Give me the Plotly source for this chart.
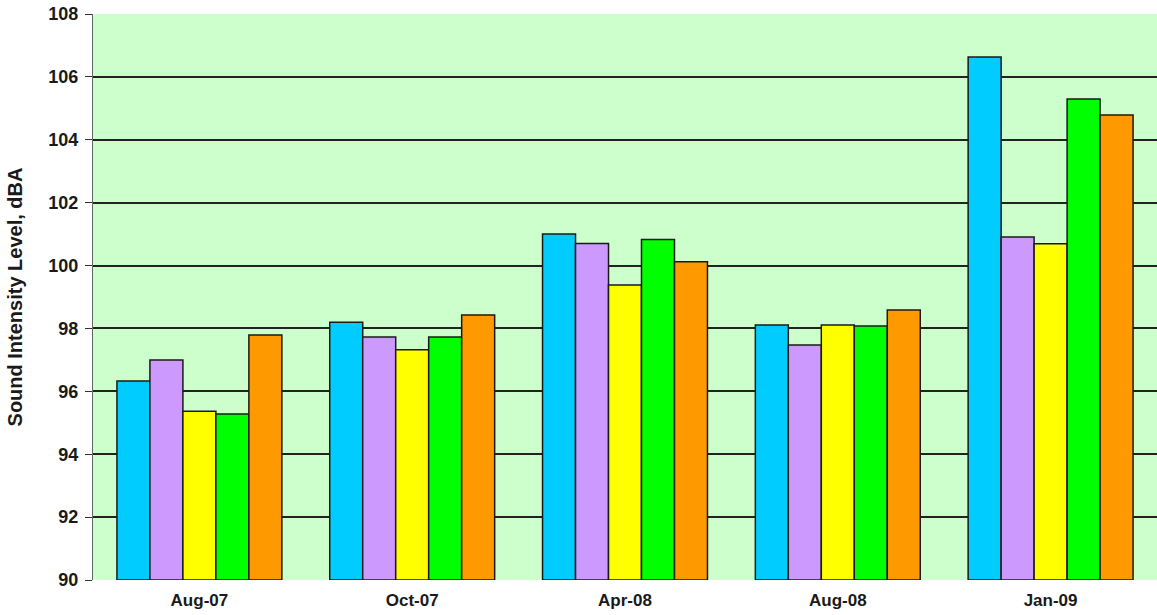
import plotly.graph_objects as go

# 측정 시점 (x축 카테고리)
periods = ["Aug-07", "Oct-07", "Apr-08", "Aug-08", "Jan-09"]

# 측정 지점별 음압 레벨 (dBA)
series_1 = [96.33, 98.2, 101.0, 98.11, 106.63]
series_2 = [97.0, 97.73, 100.7, 97.47, 100.91]
series_3 = [95.37, 97.32, 99.38, 98.11, 100.69]
series_4 = [95.28, 97.73, 100.83, 98.08, 105.3]
series_5 = [97.79, 98.43, 100.12, 98.59, 104.79]

y_ticks = [90, 92, 94, 96, 98, 100, 102, 104, 106, 108]

colors = ["#00CCFF", "#CC99FF", "#FFFF00", "#00FF00", "#FF9900"]

fig = go.Figure()
for values, color in zip([series_1, series_2, series_3, series_4, series_5], colors):
    fig.add_trace(go.Bar(
        x=periods,
        y=[v - 90 for v in values],
        base=90,
        marker=dict(color=color, line=dict(color="#1a1a1a", width=1.5)),
        showlegend=False,
    ))

fig.update_layout(
    width=1157,
    height=615,
    barmode="group",
    bargap=0.225,
    bargroupgap=0,
    plot_bgcolor="#CCFFCC",
    paper_bgcolor="white",
    margin=dict(l=93, r=0, t=14, b=35),
    font=dict(family="Liberation Sans, Arial", size=18, color="#1a1a1a"),
    xaxis=dict(
        showline=False,
        ticks="",
        showgrid=False,
        tickvals=periods,
        ticktext=[f"<b>{p}</b>" for p in periods],
        tickfont=dict(size=17),
        ticklabelstandoff=8,
    ),
    yaxis=dict(
        range=[90, 108],
        tickvals=y_ticks,
        ticktext=[f"<b>{t}</b>" for t in y_ticks],
        ticks="outside",
        ticklen=7,
        tickcolor="#333333",
        ticklabelstandoff=3,
        ticklabeloverflow="allow",
        showgrid=True,
        gridcolor="#222222",
        gridwidth=1.5,
        showline=True,
        linecolor="#666666",
        linewidth=1,
        zeroline=False,
        automargin=False,
        title=dict(text="<b>Sound Intensity Level, dBA</b>", font=dict(size=20), standoff=20),
    ),
)

# body 기본 여백 제거 (figure를 창 좌상단에 붙임), 모드바 숨김
fig.write_html(
    "out.html",
    config={"displayModeBar": False},
    post_script="document.body.style.margin='0';",
)
